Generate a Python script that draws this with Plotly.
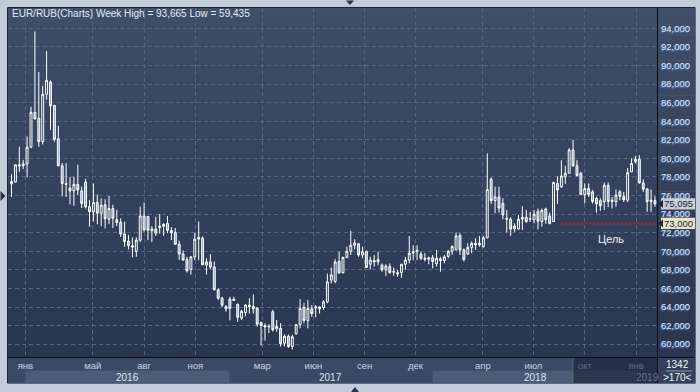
import pandas as pd
import plotly.graph_objects as go

# ---------------- data (weekly EUR/RUB candles) ----------------
first_week = "2015-12-07"
opens = [77.25, 77.45, 79.30, 79.20, 79.40, 81.20, 84.95, 84.30, 81.80, 86.90,
         88.20, 85.70, 82.10, 79.20, 77.30, 76.80, 76.50, 77.20, 76.50, 77.45,
         74.80, 74.25, 75.25, 74.10, 75.00, 73.45, 74.60, 73.40, 73.10, 71.85,
         71.10, 70.60, 70.00, 71.20, 73.80, 73.75, 72.20, 72.40, 72.55, 72.70,
         73.00, 72.25, 72.00, 70.75, 69.70, 69.10, 68.05, 69.40, 71.30, 71.40,
         68.50, 68.85, 68.30, 65.85, 64.95, 64.05, 64.85, 64.70, 64.30, 62.80,
         63.40, 64.20, 64.05, 63.90, 62.35, 62.00, 61.85, 63.50, 61.65, 61.70,
         60.10, 60.85, 59.75, 61.10, 62.10, 63.95, 62.55, 63.80, 63.90, 64.00,
         63.95, 64.55, 66.90, 66.75, 68.90, 67.70, 69.35, 70.00, 70.65, 70.80,
         69.60, 70.00, 68.60, 69.00, 68.85, 68.50, 68.00, 68.35, 67.75, 67.70,
         67.70, 68.60, 69.05, 69.80, 69.95, 69.70, 69.25, 69.15, 69.30, 68.65,
         69.20, 69.00, 69.45, 70.00, 70.15, 71.70, 70.15, 69.70, 70.40, 70.85,
         70.70, 70.50, 71.45, 77.75, 75.45, 75.85, 75.15, 73.55, 73.45, 72.40,
         72.40, 73.45, 73.65, 73.45, 73.40, 74.30, 73.20, 74.55, 73.80, 73.20,
         77.30, 76.95, 78.00, 78.40, 80.90, 79.20, 78.40, 76.10, 76.75, 76.40,
         75.70, 75.45, 75.35, 77.10, 75.35, 75.35, 76.40, 75.90, 75.50, 78.55,
         79.65, 79.90, 77.35, 76.70, 75.35, 75.45]
highs = [78.30, 79.35, 81.25, 79.80, 82.35, 85.55, 93.665, 89.30, 87.80, 91.55,
         88.40, 85.75, 83.50, 79.50, 79.50, 78.00, 78.00, 79.30, 76.95, 77.80,
         75.50, 77.30, 76.10, 75.70, 75.60, 75.95, 75.00, 74.45, 73.55, 73.20,
         71.75, 71.50, 71.50, 74.80, 75.25, 73.80, 72.70, 73.70, 74.00, 73.00,
         73.80, 72.60, 72.50, 71.15, 70.10, 69.40, 69.45, 72.00, 73.20, 71.60,
         69.25, 69.70, 68.90, 66.00, 65.10, 64.20, 65.10, 65.10, 64.35, 63.70,
         64.30, 64.95, 65.35, 63.95, 62.40, 62.25, 62.15, 63.70, 62.60, 62.25,
         61.05, 61.05, 61.00, 62.15, 64.85, 64.45, 64.75, 64.20, 64.20, 64.10,
         64.75, 67.60, 68.25, 69.15, 69.95, 69.40, 70.50, 72.20, 71.30, 70.90,
         70.50, 70.05, 69.40, 69.60, 69.95, 68.70, 68.60, 68.70, 68.25, 68.00,
         68.65, 69.40, 71.65, 70.65, 70.65, 69.95, 69.80, 69.40, 69.60, 70.15,
         69.40, 69.60, 70.15, 70.65, 72.00, 71.95, 70.30, 70.85, 71.05, 71.40,
         71.65, 71.65, 80.55, 77.95, 76.95, 76.95, 75.70, 74.45, 73.65, 73.00,
         73.90, 74.85, 74.45, 74.25, 74.45, 74.60, 74.60, 74.70, 74.15, 77.50,
         78.05, 79.80, 79.20, 81.10, 82.00, 79.80, 78.55, 77.30, 77.30, 76.60,
         75.85, 75.70, 77.40, 77.40, 75.85, 76.65, 76.60, 76.40, 78.95, 80.00,
         80.25, 80.35, 77.75, 76.80, 76.65, 75.90]
lows = [75.85, 77.40, 78.55, 78.85, 77.95, 81.10, 84.20, 81.25, 81.50, 86.30,
        83.05, 81.80, 79.15, 75.90, 75.85, 75.05, 74.90, 76.05, 74.65, 74.60,
        72.65, 73.20, 72.90, 72.70, 72.45, 72.90, 72.50, 72.70, 71.55, 70.50,
        70.20, 69.35, 69.40, 71.00, 72.10, 71.20, 71.00, 71.65, 71.90, 71.65,
        71.95, 71.20, 70.70, 69.05, 69.00, 67.70, 67.50, 69.05, 69.05, 68.50,
        67.50, 68.05, 65.80, 64.75, 64.00, 63.50, 62.55, 64.65, 62.40, 62.60,
        63.00, 63.30, 63.30, 61.90, 59.85, 60.40, 61.20, 61.35, 61.35, 59.75,
        59.75, 59.60, 59.435, 61.05, 61.70, 62.25, 61.70, 62.95, 62.90, 63.30,
        63.70, 64.40, 66.55, 66.55, 67.60, 67.60, 69.25, 69.60, 70.20, 69.40,
        69.25, 68.20, 68.05, 68.35, 68.50, 67.80, 67.35, 67.60, 67.35, 67.25,
        67.15, 68.00, 68.70, 69.05, 69.05, 69.05, 68.90, 68.60, 68.15, 68.35,
        67.80, 68.70, 69.25, 69.60, 70.10, 69.60, 68.90, 69.60, 69.80, 70.15,
        70.50, 70.40, 71.40, 75.10, 74.10, 74.15, 73.45, 72.05, 71.65, 72.10,
        72.30, 72.30, 73.05, 73.15, 73.00, 72.35, 72.65, 72.95, 72.90, 73.15,
        75.10, 76.80, 77.25, 78.35, 79.10, 78.05, 76.05, 75.15, 75.85, 75.15,
        74.15, 74.35, 74.45, 74.75, 74.60, 74.80, 75.50, 75.30, 75.30, 78.50,
        79.45, 77.30, 76.40, 74.25, 74.25, 74.80]
closes = [77.50, 79.30, 79.20, 79.40, 81.20, 84.95, 84.25, 81.80, 86.90, 88.40,
          85.65, 82.05, 79.20, 77.30, 77.20, 76.50, 77.20, 76.60, 75.15, 74.80,
          74.25, 75.25, 74.10, 74.95, 73.50, 74.60, 73.55, 73.10, 71.85, 71.05,
          70.60, 70.45, 71.20, 73.80, 72.30, 72.25, 72.40, 71.95, 72.70, 72.90,
          72.25, 72.00, 70.75, 69.70, 69.05, 67.90, 69.40, 71.30, 71.50, 68.55,
          68.85, 68.30, 65.85, 64.95, 64.20, 63.80, 63.85, 64.85, 62.90, 63.55,
          64.20, 64.05, 63.80, 62.15, 62.00, 61.85, 61.90, 61.55, 61.90, 60.05,
          60.85, 59.75, 60.80, 62.10, 63.85, 62.55, 63.85, 63.30, 64.00, 63.80,
          64.55, 66.70, 67.45, 68.85, 67.65, 69.35, 70.00, 70.65, 70.90, 69.60,
          69.95, 68.25, 69.05, 68.85, 69.10, 68.00, 68.40, 67.70, 67.80, 67.55,
          68.60, 69.05, 69.80, 69.95, 70.10, 69.25, 69.15, 69.30, 68.90, 69.25,
          69.00, 69.40, 70.00, 70.50, 71.65, 70.15, 69.10, 70.40, 70.85, 70.70,
          70.85, 71.45, 76.65, 75.45, 75.85, 74.65, 73.90, 73.45, 72.40, 72.70,
          73.45, 73.65, 73.20, 73.50, 74.00, 73.25, 74.40, 73.40, 73.00, 77.40,
          76.60, 78.10, 78.40, 80.90, 79.20, 78.15, 76.10, 76.75, 76.10, 75.35,
          75.10, 74.90, 77.10, 75.35, 75.50, 76.05, 75.90, 75.55, 78.45, 79.45,
          79.90, 77.35, 76.70, 75.35, 75.50, 75.095]

y_tick_values = [60, 62, 64, 66, 68, 70, 72, 74, 76, 78, 80, 82, 84, 86, 88, 90, 92, 94]
month_tick_dates = ["2016-01-01", "2016-05-01", "2016-08-01", "2016-11-01",
                    "2017-03-01", "2017-06-01", "2017-09-01", "2017-12-01",
                    "2018-04-01", "2018-07-01", "2018-10-01", "2019-01-01"]
month_tick_labels = ["янв", "май", "авг", "ноя", "мар", "июн", "сен", "дек",
                     "апр", "июл", "окт", "янв"]
year_labels = ["2016", "2017", "2018", "2019"]
target_level = 73.0
target_start = "2018-08-20"
target_label = "Цель"
title_text = "EUR/RUB(Charts) Week High = 93,665 Low = 59,435"
bar_count_text = "1342"
zoom_text = ">170<"

# ---------------- geometry / style ----------------
W, H = 700, 392
ML, MR, MT, MB = 8, 43, 8, 35
PW, PH = W - ML - MR, H - MT - MB
FONT = "Liberation Sans, Arial, sans-serif"


def xp(px):
    return (px - ML) / PW


def yp(py):
    return (H - MB - py) / PH


def mix(c1, c2, t):
    return "rgb(%d,%d,%d)" % tuple(round(a + (b - a) * t) for a, b in zip(c1, c2))


dates = pd.date_range(first_week, periods=len(closes), freq="7D")
x_start = pd.Timestamp("2015-11-30 17:00")
x_end = pd.Timestamp("2019-02-07 16:00")
y_range = [58.618, 96.185]

fig = go.Figure(go.Candlestick(
    x=dates, open=opens, high=highs, low=lows, close=closes,
    increasing=dict(line=dict(color="#ffffff", width=1), fillcolor="#33415d"),
    decreasing=dict(line=dict(color="#ffffff", width=1), fillcolor="#8ea6cc"),
    whiskerwidth=0, hoverinfo="none", showlegend=False))

shapes = []
# gradient background for plot + right axis panel
top_c, bot_c = (63, 78, 106), (42, 54, 80)
n = 40
for k in range(n):
    y0 = MT + (H - MB - MT) * k / n
    y1 = MT + (H - MB - MT) * (k + 1) / n
    shapes.append(dict(type="rect", xref="paper", yref="paper", layer="below",
                       x0=xp(ML), x1=xp(695), y0=yp(y1 + 0.5), y1=yp(y0),
                       fillcolor=mix(top_c, bot_c, (k + 0.5) / n), line_width=0))
# bottom time panel
shapes.append(dict(type="rect", xref="paper", yref="paper", layer="below",
                   x0=xp(ML), x1=xp(657), y0=yp(383), y1=yp(357),
                   fillcolor="#3b4966", line_width=0))
# year bands
for y0d, y1d in [("2016-01-01", "2017-01-01"), ("2018-01-01", "2019-01-01")]:
    shapes.append(dict(type="rect", xref="x", yref="paper", layer="below",
                       x0=y0d, x1=y1d, y0=yp(383), y1=yp(370.5),
                       fillcolor="#4c5b78", line_width=0))
# bottom-right info box
shapes.append(dict(type="rect", xref="paper", yref="paper", layer="below",
                   x0=xp(657), x1=xp(695), y0=yp(383), y1=yp(357),
                   fillcolor="#34415c", line_width=0))
shapes.append(dict(type="line", xref="paper", yref="paper", layer="above",
                   x0=xp(666), x1=xp(692), y0=yp(371), y1=yp(371),
                   line=dict(color="#8a96ab", width=1)))
# dim overlay at the right of the time panel
shapes.append(dict(type="rect", xref="paper", yref="paper", layer="above",
                   x0=xp(573), x1=xp(657), y0=yp(383), y1=yp(357.5),
                   fillcolor="rgba(22,30,48,0.58)", line_width=0))
shapes.append(dict(type="line", xref="paper", yref="paper", layer="above",
                   x0=xp(573), x1=xp(573), y0=yp(383), y1=yp(358),
                   line=dict(color="#56637c", width=1)))
# frame lines
for (x0, y0, x1, y1, c) in [(7.5, 7.5, 7.5, 383, "#1b2334"),
                            (7.5, 7.5, 695, 7.5, "#1b2334"),
                            (657.5, 7.5, 657.5, 383, "#0b0f18"),
                            (7.5, 357.5, 695, 357.5, "#0b0f18"),
                            (7.5, 383.5, 695, 383.5, "#5d6a80"),
                            (695.5, 7.5, 695.5, 383.5, "#5d6a80")]:
    shapes.append(dict(type="line", xref="paper", yref="paper", layer="above",
                       x0=xp(x0), x1=xp(x1), y0=yp(y0), y1=yp(y1),
                       line=dict(color=c, width=1)))
# target dotted line
shapes.append(dict(type="line", xref="x", yref="y", layer="above",
                   x0=target_start, x1=x_end, y0=target_level, y1=target_level,
                   line=dict(color="#b3262c", width=2, dash="2px,2px")))
# price tags on the right axis
last_close = closes[-1]
for val, fill in [(last_close, "#c9ced8"), (target_level, "#e4e3c4")]:
    shapes.append(dict(type="rect", xref="paper", yref="y", layer="above",
                       x0=xp(661), x1=xp(695), y0=val - 0.6, y1=val + 0.6,
                       fillcolor=fill, line_width=0))
    shapes.append(dict(type="path", xref="paper", yref="y", layer="above",
                       path="M %f,%f L %f,%f L %f,%f Z" % (xp(658), val, xp(663), val + 0.42,
                                                           xp(663), val - 0.42),
                       fillcolor="#1d2638", line_width=0))
# small navigation triangles
tri = [
    "M %f,%f L %f,%f L %f,%f Z" % (xp(346), yp(0.5), xp(354), yp(0.5), xp(350), yp(5)),
    "M %f,%f L %f,%f L %f,%f Z" % (xp(351), yp(392), xp(359), yp(392), xp(355), yp(387)),
    "M %f,%f L %f,%f L %f,%f Z" % (xp(0.5), yp(191), xp(0.5), yp(201), xp(5.5), yp(196)),
]
for p in tri:
    shapes.append(dict(type="path", xref="paper", yref="paper", layer="above",
                       path=p, fillcolor="#26314a", line_width=0))

annotations = [
    dict(text=title_text, xref="paper", yref="paper", x=xp(10), y=yp(13.5),
         xanchor="left", yanchor="middle", showarrow=False,
         font=dict(family=FONT, size=10, color="#e6ebf4")),
    dict(text=target_label, xref="paper", yref="y", x=xp(611), y=target_level - 1.65,
         xanchor="center", yanchor="middle", showarrow=False,
         font=dict(family=FONT, size=11, color="#f2f4f8")),
    dict(text=f"{last_close:.3f}".replace(".", ","), xref="paper", yref="y", x=xp(679),
         y=last_close, xanchor="center", yanchor="middle", showarrow=False,
         font=dict(family=FONT, size=9.5, color="#1b2538")),
    dict(text=f"{target_level:.3f}".replace(".", ","), xref="paper", yref="y", x=xp(679),
         y=target_level, xanchor="center", yanchor="middle", showarrow=False,
         font=dict(family=FONT, size=9.5, color="#1b2538")),
    dict(text=bar_count_text, xref="paper", yref="paper", x=xp(677), y=yp(364.5),
         xanchor="center", yanchor="middle", showarrow=False,
         font=dict(family=FONT, size=10, color="#eef1f6")),
    dict(text=zoom_text, xref="paper", yref="paper", x=xp(677), y=yp(377.5),
         xanchor="center", yanchor="middle", showarrow=False,
         font=dict(family=FONT, size=10, color="#eef1f6")),
]
year_pos = ["2016-07-02", "2017-07-02", "2018-07-04", "2019-01-22"]
for lbl, pos in zip(year_labels, year_pos):
    dim = lbl == "2019"
    annotations.append(dict(text=lbl, xref="x", yref="paper", x=pos, y=yp(377),
                            xanchor="center", yanchor="middle", showarrow=False,
                            font=dict(family=FONT, size=10,
                                      color="#6a768d" if dim else "#dde3ee")))

grid = dict(showgrid=True, gridcolor="#56647e", gridwidth=1, griddash="4px,3px")
fig.update_layout(
    width=W, height=H, autosize=False,
    margin=dict(l=ML, r=MR, t=MT, b=MB, pad=0),
    paper_bgcolor="#c2cbd8", plot_bgcolor="#34425f",
    separators=",.",
    showlegend=False, hovermode=False,
    font=dict(family=FONT),
    xaxis=dict(type="date", range=[x_start, x_end], rangeslider=dict(visible=False),
               tickmode="array", tickvals=month_tick_dates, ticktext=month_tick_labels,
               ticks="", tickfont=dict(family=FONT, size=9.5, color="#c9d1e1"),
               ticklabelstandoff=1, zeroline=False, showline=False, fixedrange=True,
               **grid),
    yaxis=dict(side="right", range=y_range, tickmode="array", tickvals=y_tick_values,
               tickformat=".3f", ticks="", ticklabelstandoff=3,
               tickfont=dict(family=FONT, size=9.5, color="#e2e8f4",
                             shadow="-1px 1px 1px #4d86d8"),
               zeroline=False, showline=False, fixedrange=True, **grid),
    shapes=shapes, annotations=annotations,
)

fig.write_html("out.html")
